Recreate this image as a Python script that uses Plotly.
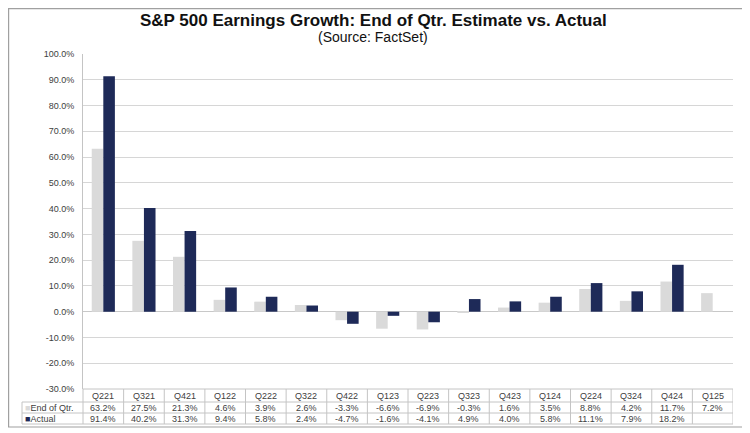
import plotly.graph_objects as go

# -----------------------------------------------------------------------------
# Data
# -----------------------------------------------------------------------------
quarters = ['Q221', 'Q321', 'Q421', 'Q122', 'Q222', 'Q322', 'Q422', 'Q123',
            'Q223', 'Q323', 'Q423', 'Q124', 'Q224', 'Q324', 'Q424', 'Q125']
end_of_qtr = [63.2, 27.5, 21.3, 4.6, 3.9, 2.6, -3.3, -6.6,
              -6.9, -0.3, 1.6, 3.5, 8.8, 4.2, 11.7, 7.2]
actual = [91.4, 40.2, 31.3, 9.4, 5.8, 2.4, -4.7, -1.6,
          -4.1, 4.9, 4.0, 5.8, 11.1, 7.9, 18.2, None]
y_ticks = list(range(-30, 101, 10))

gray = '#dadada'
navy = '#1e2a58'
line_col = '#c4c4c4'
text_col = '#404040'
font_family = 'Liberation Sans, Arial, sans-serif'

# page body has an 8px margin, so figure is a bit smaller than the window
OFF = 8
W, H = 742, 425
# plot area in screen pixels: x 83..733, y 54..389
L, R, T, B = 83 - OFF, W - (733 - OFF), 54 - OFF, H - (389 - OFF)
pw, ph = W - L - R, H - T - B


def px(x):
    # screen pixel -> paper x
    return (x - OFF - L) / pw


def py(y):
    # screen pixel -> paper y
    return (H - B - (y - OFF)) / ph


# -----------------------------------------------------------------------------
# Bars
# -----------------------------------------------------------------------------
fig = go.Figure()
fig.add_trace(go.Bar(x=quarters, y=end_of_qtr, name='End of Qtr.',
                     marker=dict(color=gray, line=dict(width=0))))
fig.add_trace(go.Bar(x=quarters, y=actual, name='Actual',
                     marker=dict(color=navy, line=dict(width=0))))

# -----------------------------------------------------------------------------
# Data table under the chart (shapes + annotations)
# -----------------------------------------------------------------------------
row_top, row1, row2, row_bot = 0, py(402), py(413), py(424)
lab_left = px(22)
shapes = []
for yy, x0 in [(row_top, 0), (row1, lab_left), (row2, lab_left), (row_bot, lab_left)]:
    shapes.append(dict(type='line', xref='paper', yref='paper', x0=x0, x1=1,
                       y0=yy, y1=yy, line=dict(color=line_col, width=1)))
shapes.append(dict(type='line', xref='paper', yref='paper', x0=lab_left, x1=lab_left,
                   y0=row1, y1=row_bot, line=dict(color=line_col, width=1)))
shapes.append(dict(type='line', xref='paper', yref='paper', x0=0, x1=0,
                   y0=0, y1=row_bot, line=dict(color=line_col, width=1)))
for i in range(1, len(quarters) + 1):
    shapes.append(dict(type='line', xref='x', yref='paper', x0=i - 0.5, x1=i - 0.5,
                       y0=0, y1=row_bot, line=dict(color=line_col, width=1)))
# outer frame
shapes.append(dict(type='rect', xref='paper', yref='paper', x0=px(8.6), x1=px(744),
                   y0=py(427), y1=py(8.6), line=dict(color='#a0a0a0', width=1.2)))

annotations = []
tfont = dict(family=font_family, size=9, color=text_col)
cell = dict(xref='x', yref='paper', showarrow=False, font=tfont,
            xanchor='center', yanchor='middle')
for q, e, a in zip(quarters, end_of_qtr, actual):
    annotations.append(dict(cell, x=q, y=(row_top + row1) / 2, text=q))
    annotations.append(dict(cell, x=q, y=(row1 + row2) / 2, text=f'{e:.1f}%'))
    if a is not None:
        annotations.append(dict(cell, x=q, y=(row2 + row_bot) / 2, text=f'{a:.1f}%'))
annotations.append(dict(x=px(23), xref='paper', y=(row1 + row2) / 2, yref='paper',
                        xanchor='left', yanchor='middle', showarrow=False, font=tfont,
                        text=f"<span style='color:{gray}'>■</span>End of Qtr."))
annotations.append(dict(x=px(23), xref='paper', y=(row2 + row_bot) / 2, yref='paper',
                        xanchor='left', yanchor='middle', showarrow=False, font=tfont,
                        text=f"<span style='color:{navy}'>■</span>Actual"))

# titles
annotations.append(dict(x=px(373), xref='paper', y=py(20), yref='paper', showarrow=False,
                        xanchor='center', yanchor='middle',
                        text='<b>S&P 500 Earnings Growth: End of Qtr. Estimate vs. Actual</b>',
                        font=dict(family=font_family, size=17, color='#111111')))
annotations.append(dict(x=px(373), xref='paper', y=py(37), yref='paper', showarrow=False,
                        xanchor='center', yanchor='middle',
                        text='(Source: FactSet)',
                        font=dict(family=font_family, size=14, color='#111111')))

# -----------------------------------------------------------------------------
# Layout
# -----------------------------------------------------------------------------
fig.update_layout(
    width=W, height=H,
    margin=dict(l=L, r=R, t=T, b=B, pad=0),
    paper_bgcolor='white', plot_bgcolor='white',
    barmode='group', bargap=0.43, bargroupgap=0,
    showlegend=False,
    shapes=shapes, annotations=annotations,
    font=dict(family=font_family, color=text_col),
)
fig.update_xaxes(showticklabels=False, showgrid=False, showline=False, zeroline=False,
                 range=[-0.5, len(quarters) - 0.5])
fig.update_yaxes(range=[-30, 100], tickvals=y_ticks,
                 ticktext=[f'{v:.1f}%' for v in y_ticks],
                 showgrid=True, gridcolor='#d6d6d6', gridwidth=1,
                 zeroline=True, zerolinecolor='#c8c8c8', zerolinewidth=1,
                 showline=True, linecolor=line_col, linewidth=1,
                 ticks='outside', ticklen=6, tickcolor='white',
                 tickfont=dict(family=font_family, size=9, color=text_col))

fig.write_html('out.html')
